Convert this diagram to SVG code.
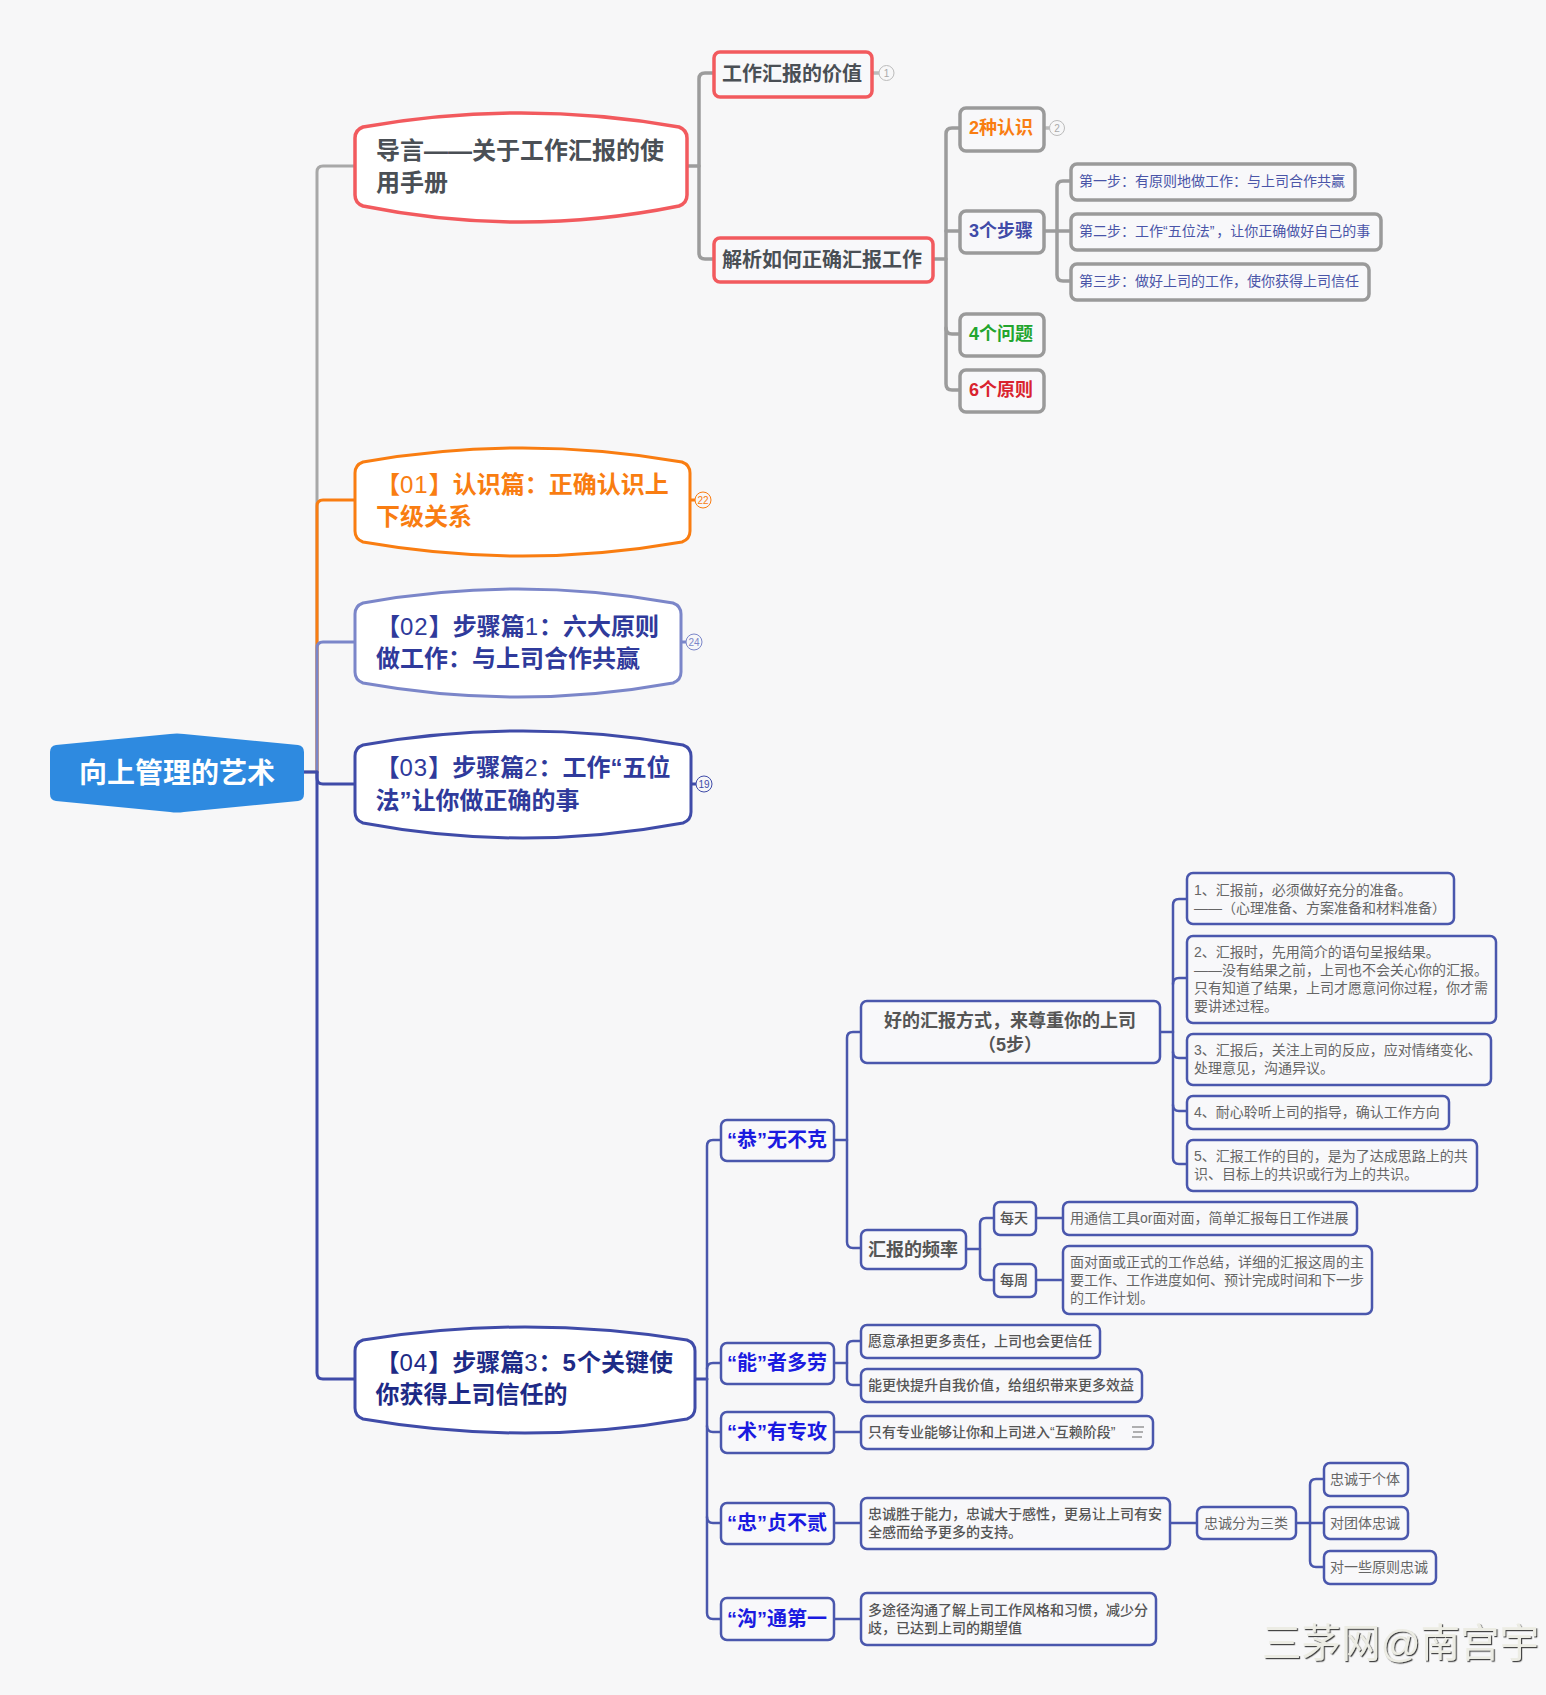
<svg xmlns="http://www.w3.org/2000/svg" width="1546" height="1695" viewBox="0 0 1546 1695">
<defs>
<filter id="emboss" x="-5%" y="-10%" width="110%" height="125%"><feDropShadow dx="1.2" dy="1.2" stdDeviation="0.4" flood-color="#444"/></filter>
</defs>
<style>
text{font-family:"Liberation Sans","Noto Sans CJK SC",sans-serif;}
.c{fill:none;stroke-linecap:round;stroke-linejoin:round;}
.cg{stroke:#a8a8a8;stroke-width:3;}
.cg2{stroke:#9c9c9c;stroke-width:3.5;}
.co{stroke:#f97d11;stroke-width:3;}
.cp{stroke:#7b86c9;stroke-width:3;}
.cb{stroke:#3f4ba8;stroke-width:3;}
.cn{stroke:#4a57ad;stroke-width:2.5;}
.big{fill:#fff;stroke-width:3;}
.t24{font-size:24px;font-weight:700;}
.lt{font-weight:400;letter-spacing:1px;}
.r{fill:#f8f8fa;stroke-width:3.5;}
.rr{stroke:#f25a5e;}
.rg{stroke:#9a9a9a;}
.rb{fill:#f8f8fa;stroke:#4a57ad;stroke-width:2.5;}
.t20{font-size:20px;font-weight:700;fill:#4a4f55;}
.t18{font-size:18px;font-weight:700;}
.s14{font-size:14px;fill:#4a55a8;}
.n14{font-size:14px;fill:#666;}
.m14{font-size:14px;fill:#555;font-weight:500;}
.hd{font-size:20px;font-weight:700;fill:#1a1ae0;text-anchor:middle;}
.mid{text-anchor:middle;}
.num{fill:#f7f7f8;stroke-width:1;}
.numt{font-size:10px;text-anchor:middle;}
</style>
<rect width="1546" height="1695" fill="#f7f7f8"/>
<g id="connectors">
<path class="c cg" d="M304 772H317V172Q317 166 323 166H355"/>
<path class="c co" d="M317 772V506Q317 500 323 500H355"/>
<path class="c cp" d="M317 772V648Q317 642 323 642H355"/>
<path class="c cb" d="M304 772H317V778Q317 784 323 784H355"/>
<path class="c cb" d="M317 772V1373Q317 1379 323 1379H355"/>
<path class="c cg2" d="M687 166H699"/>
<path class="c cg2" d="M713 73H705Q699 73 699 79V253Q699 259 705 259H713"/>
<path class="c cg2" d="M873 73H879" style="stroke:#bbb"/>
<path class="c cg2" d="M934 259H946"/>
<path class="c cg2" d="M959 128H952Q946 128 946 134V384Q946 390 952 390H959"/>
<path class="c cg2" d="M946 231H959"/>
<path class="c cg2" d="M946 328Q946 334 952 334H959"/>
<path class="c cg2" d="M1044 128H1050" style="stroke:#bbb"/>
<path class="c cg2" d="M1044 231H1071"/>
<path class="c cg2" d="M1071 181H1063Q1057 181 1057 187V275Q1057 281 1063 281H1071"/>
<path class="c co" d="M690 500H695"/>
<path class="c cp" d="M681 642H686"/>
<path class="c cb" d="M691 784H696"/>
<path class="c cb" d="M695 1379H707"/>
<path class="c cn" d="M721 1140H713Q707 1140 707 1146V1613Q707 1619 713 1619H721"/>
<path class="c cn" d="M721 1363H713Q707 1363 707 1369"/>
<path class="c cn" d="M707 1426Q707 1432 713 1432H721"/>
<path class="c cn" d="M707 1517Q707 1523 713 1523H721"/>
<path class="c cn" d="M834 1140H847"/>
<path class="c cn" d="M861 1032H853Q847 1032 847 1038V1242Q847 1248 853 1248H861"/>
<path class="c cn" d="M1160 1032H1173"/>
<path class="c cn" d="M1187 899H1179Q1173 899 1173 905V1158Q1173 1164 1179 1164H1187"/>
<path class="c cn" d="M1187 978H1179Q1173 978 1173 984"/>
<path class="c cn" d="M1173 1052Q1173 1058 1179 1058H1187"/>
<path class="c cn" d="M1173 1105Q1173 1111 1179 1111H1187"/>
<path class="c cn" d="M965 1249H980"/>
<path class="c cn" d="M994 1218H986Q980 1218 980 1224V1274Q980 1280 986 1280H994"/>
<path class="c cn" d="M1036 1218H1063"/>
<path class="c cn" d="M1036 1280H1063"/>
<path class="c cn" d="M834 1363H847"/>
<path class="c cn" d="M861 1341H853Q847 1341 847 1347V1379Q847 1385 853 1385H861"/>
<path class="c cn" d="M834 1432H861"/>
<path class="c cn" d="M834 1523H861"/>
<path class="c cn" d="M1170 1523H1197"/>
<path class="c cn" d="M1296 1523H1324"/>
<path class="c cn" d="M1324 1479H1316Q1310 1479 1310 1485V1561Q1310 1567 1316 1567H1324"/>
<path class="c cn" d="M834 1619H861"/>
</g>
<g id="root"><path fill="#2e8ae0" d="M50 752Q50 746 56 745L170 734Q177 733 184 734L298 745Q304 746 304 752V794Q304 800 298 801L184 812Q177 813 170 812L56 801Q50 800 50 794Z"/>
<text x="177" y="783" font-size="28" font-weight="700" fill="#fff" text-anchor="middle">向上管理的艺术</text></g>
<g id="intro"><path class="big" stroke="#f25a5e" style="stroke-width:3.5" d="M355 138Q355 130 363 127Q521 99 679 127Q687 130 687 138V195Q687 203 679 206Q521 238 363 206Q355 203 355 195Z"/>
<text class="t24" x="376" y="159" fill="#4a4f55">导言——关于工作汇报的使</text><text class="t24" x="376" y="190.500" fill="#4a4f55">用手册</text></g>
<g id="value"><rect class="r rr" x="714" y="52" width="158" height="45" rx="6"/><text class="t20" x="722" y="81">工作汇报的价值</text></g>
<g id="value-badge"><circle class="num" stroke="#bbb" cx="886.500" cy="73" r="7.500"/><text class="numt" x="886.500" y="76.500" fill="#aaa">1</text></g>
<g id="analysis"><rect class="r rr" x="714" y="238" width="219" height="44" rx="6"/><text class="t20" x="722" y="267">解析如何正确汇报工作</text></g>
<g id="two"><rect class="r rg" x="960" y="108" width="84" height="43" rx="6"/><text class="t18" x="969" y="134" fill="#f97d11">2种认识</text></g>
<g id="two-badge"><circle class="num" stroke="#bbb" cx="1057" cy="128" r="7.500"/><text class="numt" x="1057" y="131.500" fill="#aaa">2</text></g>
<g id="three"><rect class="r rg" x="960" y="211" width="84" height="42" rx="6"/><text class="t18" x="969" y="237" fill="#3f4ba8">3个步骤</text></g>
<g id="four"><rect class="r rg" x="960" y="314" width="84" height="42" rx="6"/><text class="t18" x="969" y="340" fill="#22a52e">4个问题</text></g>
<g id="six"><rect class="r rg" x="960" y="370" width="84" height="42" rx="6"/><text class="t18" x="969" y="396" fill="#d9232e">6个原则</text></g>
<g id="step1"><rect class="r rg" x="1071" y="164" width="284" height="36" rx="6"/><text class="s14" x="1079" y="186">第一步：有原则地做工作：与上司合作共赢</text></g>
<g id="step2"><rect class="r rg" x="1071" y="214" width="310" height="36" rx="6"/><text class="s14" x="1079" y="236">第二步：工作“五位法”<tspan dx="2">，</tspan>让你正确做好自己的事</text></g>
<g id="step3"><rect class="r rg" x="1071" y="264" width="298" height="36" rx="6"/><text class="s14" x="1079" y="286">第三步：做好上司的工作，使你获得上司信任</text></g>
<g id="ch01"><path class="big" stroke="#f97d11" d="M355 473Q355 465 363 462Q522.500 434 682 462Q690 465 690 473V531Q690 539 682 542Q522.500 570 363 542Q355 539 355 531Z"/>
<text class="t24" x="376" y="493" fill="#f97d11">【<tspan class="lt">01</tspan>】认识篇：正确认识上</text><text class="t24" x="376" y="525" fill="#f97d11">下级关系</text></g>
<g id="ch01-badge"><circle class="num" stroke="#f97d11" cx="703" cy="500" r="8"/><text class="numt" x="703" y="503.500" fill="#f97d11">22</text></g>
<g id="ch02"><path class="big" stroke="#7b86c9" d="M355 614Q355 606 363 603Q518 575 673 603Q681 606 681 614V672Q681 680 673 683Q518 711 363 683Q355 680 355 672Z"/>
<text class="t24" x="376" y="635" fill="#2f3a9b">【<tspan class="lt">02</tspan>】步骤篇<tspan class="lt">1</tspan>：六大原则</text><text class="t24" x="376" y="667" fill="#2f3a9b">做工作：与上司合作共赢</text></g>
<g id="ch02-badge"><circle class="num" stroke="#7b86c9" cx="694" cy="642" r="8"/><text class="numt" x="694" y="645.500" fill="#7b86c9">24</text></g>
<g id="ch03"><path class="big" stroke="#3f4ba8" d="M355 756Q355 748 363 745Q523 717 683 745Q691 748 691 756V812Q691 820 683 823Q523 853 363 823Q355 820 355 812Z"/>
<text class="t24" x="375.500" y="776" fill="#2f3a9b">【<tspan class="lt">03</tspan>】步骤篇<tspan class="lt">2</tspan>：工作“五位</text><text class="t24" x="375.500" y="808.500" fill="#2f3a9b">法”让你做正确的事</text></g>
<g id="ch03-badge"><circle class="num" stroke="#3f4ba8" cx="704" cy="784" r="8"/><text class="numt" x="704" y="787.500" fill="#3f4ba8">19</text></g>
<g id="ch04"><path class="big" stroke="#3f4ba8" d="M355 1351Q355 1343 363 1340Q525 1314 687 1340Q695 1343 695 1351V1408Q695 1416 687 1419Q525 1447 363 1419Q355 1416 355 1408Z"/>
<text class="t24" x="375.500" y="1370.500" fill="#1d2a86">【<tspan class="lt">04</tspan>】步骤篇<tspan class="lt">3</tspan>：<tspan letter-spacing="1">5</tspan>个关键使</text><text class="t24" x="375.500" y="1402.500" fill="#1d2a86">你获得上司信任的</text></g>
<g id="gong"><rect class="rb" x="721" y="1120" width="113" height="41" rx="6"/><text class="hd" x="777" y="1147">“恭”无不克</text></g>
<g id="neng"><rect class="rb" x="721" y="1343" width="113" height="41" rx="6"/><text class="hd" x="777" y="1370">“能”者多劳</text></g>
<g id="shu"><rect class="rb" x="721" y="1412" width="113" height="41" rx="6"/><text class="hd" x="777" y="1439">“术”有专攻</text></g>
<g id="zhong"><rect class="rb" x="721" y="1503" width="113" height="41" rx="6"/><text class="hd" x="777" y="1530">“忠”贞不贰</text></g>
<g id="gou"><rect class="rb" x="721" y="1598" width="113" height="42" rx="6"/><text class="hd" x="777" y="1626">“沟”通第一</text></g>
<g id="good"><rect class="rb" x="861" y="1001" width="299" height="62" rx="6"/><text class="t18 mid" x="1010" y="1026.500" fill="#555">好的汇报方式，来尊重你的上司</text><text class="t18 mid" x="1010" y="1051" fill="#555">（5步）</text></g>
<g id="g1"><rect class="rb" x="1187" y="873" width="267" height="51" rx="6"/><text class="n14" x="1194" y="895">1、汇报前，必须做好充分的准备。</text><text class="n14" x="1194" y="913">——（心理准备、方案准备和材料准备）</text></g>
<g id="g2"><rect class="rb" x="1187" y="936" width="309" height="87" rx="6"/><text class="n14" x="1194" y="957">2、汇报时，先用简介的语句呈报结果。</text><text class="n14" x="1194" y="975">——没有结果之前，上司也不会关心你的汇报。</text><text class="n14" x="1194" y="993">只有知道了结果，上司才愿意问你过程，你才需</text><text class="n14" x="1194" y="1011">要讲述过程。</text></g>
<g id="g3"><rect class="rb" x="1187" y="1034" width="304" height="51" rx="6"/><text class="n14" x="1194" y="1055">3、汇报后，关注上司的反应，应对情绪变化、</text><text class="n14" x="1194" y="1073">处理意见，沟通异议。</text></g>
<g id="g4"><rect class="rb" x="1187" y="1096" width="262" height="33" rx="6"/><text class="n14" x="1194" y="1117">4、耐心聆听上司的指导，确认工作方向</text></g>
<g id="g5"><rect class="rb" x="1187" y="1140" width="290" height="51" rx="6"/><text class="n14" x="1194" y="1161">5、汇报工作的目的，是为了达成思路上的共</text><text class="n14" x="1194" y="1179">识、目标上的共识或行为上的共识。</text></g>
<g id="freq"><rect class="rb" x="861" y="1230" width="105" height="39" rx="6"/><text class="t18" x="868" y="1255.500" fill="#555">汇报的频率</text></g>
<g id="daily"><rect class="rb" x="994" y="1202" width="42" height="33" rx="6"/><text class="m14" x="1000" y="1223">每天</text></g>
<g id="weekly"><rect class="rb" x="994" y="1264" width="42" height="33" rx="6"/><text class="m14" x="1000" y="1285">每周</text></g>
<g id="daily-note"><rect class="rb" x="1063" y="1202" width="294" height="33" rx="6"/><text class="n14" x="1070" y="1223">用通信工具or面对面，简单汇报每日工作进展</text></g>
<g id="weekly-note"><rect class="rb" x="1063" y="1246" width="309" height="68" rx="6"/><text class="n14" x="1070" y="1267">面对面或正式的工作总结，详细的汇报这周的主</text><text class="n14" x="1070" y="1285">要工作、工作进度如何、预计完成时间和下一步</text><text class="n14" x="1070" y="1303">的工作计划。</text></g>
<g id="neng1"><rect class="rb" x="861" y="1325" width="239" height="33" rx="6"/><text class="m14" x="868" y="1346">愿意承担更多责任，上司也会更信任</text></g>
<g id="neng2"><rect class="rb" x="861" y="1369" width="281" height="33" rx="6"/><text class="m14" x="868" y="1390">能更快提升自我价值，给组织带来更多效益</text></g>
<g id="shu1"><rect class="rb" x="861" y="1416" width="292" height="33" rx="6"/><text class="m14" x="868" y="1437">只有专业能够让你和上司进入“互赖阶段”</text><path d="M1132 1427H1144M1133 1432H1143M1132 1437H1142" fill="none" stroke="#666" stroke-width="1"/></g>
<g id="zhong1"><rect class="rb" x="861" y="1498" width="309" height="51" rx="6"/><text class="m14" x="868" y="1519">忠诚胜于能力，忠诚大于感性，更易让上司有安</text><text class="m14" x="868" y="1537">全感而给予更多的支持。</text></g>
<g id="zhong2"><rect class="rb" x="1197" y="1507" width="99" height="32" rx="6"/><text class="n14" x="1204" y="1528">忠诚分为三类</text></g>
<g id="z1"><rect class="rb" x="1324" y="1463" width="84" height="33" rx="6"/><text class="n14" x="1330" y="1484">忠诚于个体</text></g>
<g id="z2"><rect class="rb" x="1324" y="1507" width="84" height="32" rx="6"/><text class="n14" x="1330" y="1528">对团体忠诚</text></g>
<g id="z3"><rect class="rb" x="1324" y="1551" width="112" height="33" rx="6"/><text class="n14" x="1330" y="1572">对一些原则忠诚</text></g>
<g id="gou1"><rect class="rb" x="861" y="1593" width="295" height="52" rx="6"/><text class="m14" x="868" y="1615">多途径沟通了解上司工作风格和习惯，减少分</text><text class="m14" x="868" y="1633">歧，已达到上司的期望值</text></g>
<g id="watermark"><text x="1262" y="1657" font-size="39.500" fill="#ecece4" filter="url(#emboss)">三茅网@南宫宇</text></g>
</svg>
